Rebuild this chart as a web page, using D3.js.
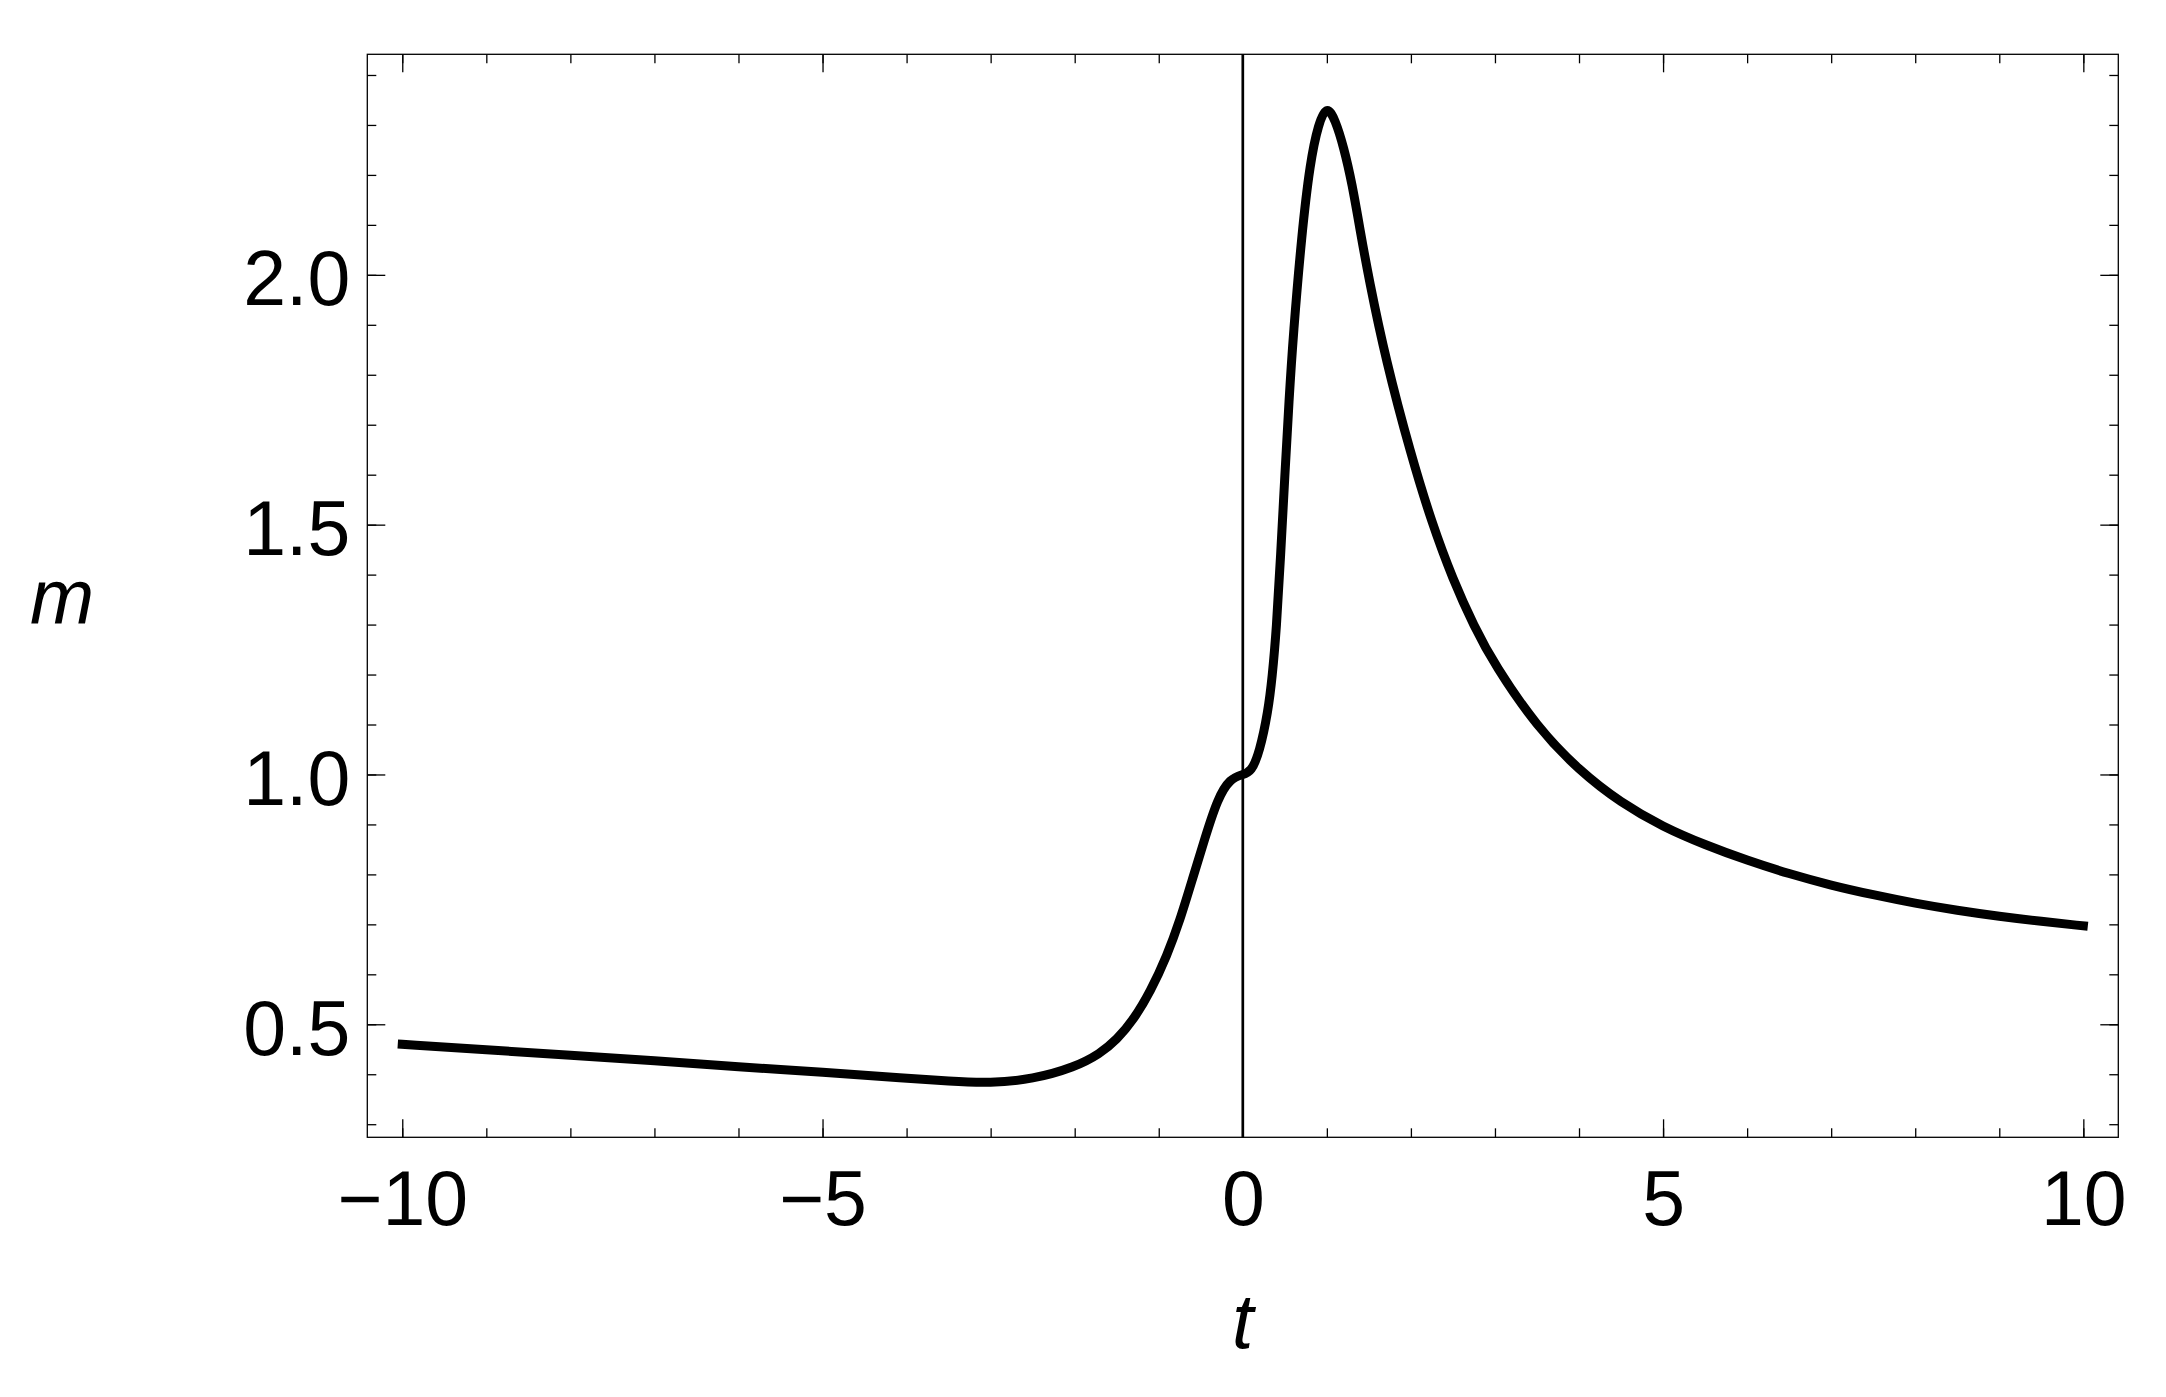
<!DOCTYPE html>
<html>
<head>
<meta charset="utf-8">
<script src="https://cdn.jsdelivr.net/npm/d3@7"></script>
<style>
  html, body { margin: 0; padding: 0; background: #fff; }
  svg text { font-family: "Liberation Sans", Arial, sans-serif; fill: #000; }
</style>
</head>
<body>
<svg id="chart"></svg>
<script>
// values
const tValues = [
  -10, -9, -8, -7, -6, -5, -4, -3.5, -3, -2.5, -2, -1.7, -1.5, -1.3, -1.1,
  -0.9, -0.75, -0.6, -0.45, -0.3, -0.15, 0, 0.1, 0.2, 0.3, 0.35, 0.4, 0.45,
  0.5, 0.55, 0.6, 0.7, 0.8, 0.9, 1.0, 1.1, 1.2, 1.3, 1.4, 1.5, 1.7, 2.0,
  2.25, 2.5, 2.75, 3.0, 3.5, 4.0, 4.5, 5.0, 5.5, 6.0, 6.5, 7.0, 7.5, 8.0,
  8.5, 9.0, 9.5, 10,
];
const mValues = [
  0.46, 0.449, 0.438, 0.427, 0.415, 0.404, 0.392, 0.386, 0.382, 0.39, 0.414,
  0.441, 0.469, 0.509, 0.565, 0.638, 0.707, 0.79, 0.873, 0.952, 0.992, 1.0,
  1.005, 1.045, 1.125, 1.195, 1.29, 1.438, 1.598, 1.75, 1.88, 2.08, 2.225,
  2.303, 2.34, 2.31, 2.256, 2.183, 2.085, 1.992, 1.83, 1.64, 1.503, 1.39,
  1.297, 1.218, 1.095, 1.008, 0.943, 0.895, 0.859, 0.828, 0.801, 0.778,
  0.759, 0.742, 0.728, 0.716, 0.706, 0.697,
];

const xMajor = [-10, -5, 0, 5, 10];
const xMinor = d3.range(-10, 10.5, 1);
const yMajor = [0.5, 1.0, 1.5, 2.0];
const yMinor = d3.range(3, 25, 1).map((d) => d / 10);

const xLabel = "t";
const yLabel = "m";

const width = 2166;
const height = 1397;
const frame = { left: 367.3, right: 2118.3, top: 54.3, bottom: 1137.3 };

const svg = d3.select("svg#chart").attr("width", width).attr("height", height);

const x = d3
  .scaleLinear()
  .domain([-10.416, 10.416])
  .range([frame.left, frame.right]);
const y = d3
  .scaleLinear()
  .domain([0.2738, 2.4414])
  .range([frame.bottom, frame.top]);

const majorLen = 18;
const minorLen = 9;
const fmt = (d) => d3.format("")(d).replace("-", "\u2212");

function styleAxis(g) {
  g.select(".domain").remove();
  g.selectAll("line").attr("stroke", "#000").attr("stroke-width", 1.3);
  g.selectAll("text").attr("font-size", 77).attr("fill", "#000");
}

// minor ticks (all four sides)
svg
  .append("g")
  .attr("transform", `translate(0,${frame.bottom})`)
  .call(d3.axisBottom(x).tickValues(xMinor).tickSize(-minorLen).tickFormat(""))
  .call(styleAxis);
svg
  .append("g")
  .attr("transform", `translate(0,${frame.top})`)
  .call(d3.axisTop(x).tickValues(xMinor).tickSize(-minorLen).tickFormat(""))
  .call(styleAxis);
svg
  .append("g")
  .attr("transform", `translate(${frame.left},0)`)
  .call(d3.axisLeft(y).tickValues(yMinor).tickSize(-minorLen).tickFormat(""))
  .call(styleAxis);
svg
  .append("g")
  .attr("transform", `translate(${frame.right},0)`)
  .call(d3.axisRight(y).tickValues(yMinor).tickSize(-minorLen).tickFormat(""))
  .call(styleAxis);

// major ticks with labels
svg
  .append("g")
  .attr("transform", `translate(0,${frame.bottom})`)
  .call(
    d3
      .axisBottom(x)
      .tickValues(xMajor)
      .tickSize(-majorLen)
      .tickPadding(33)
      .tickFormat(fmt)
  )
  .call(styleAxis);
svg
  .append("g")
  .attr("transform", `translate(0,${frame.top})`)
  .call(d3.axisTop(x).tickValues(xMajor).tickSize(-majorLen).tickFormat(""))
  .call(styleAxis);
svg
  .append("g")
  .attr("transform", `translate(${frame.left},0)`)
  .call(
    d3
      .axisLeft(y)
      .tickValues(yMajor)
      .tickSize(-majorLen)
      .tickPadding(17)
      .tickFormat(d3.format(".1f"))
  )
  .call(styleAxis)
  .call((g) => g.selectAll("text").attr("dy", "0.39em"));
svg
  .append("g")
  .attr("transform", `translate(${frame.right},0)`)
  .call(d3.axisRight(y).tickValues(yMajor).tickSize(-majorLen).tickFormat(""))
  .call(styleAxis);

// frame
svg
  .append("rect")
  .attr("x", frame.left)
  .attr("y", frame.top)
  .attr("width", frame.right - frame.left)
  .attr("height", frame.bottom - frame.top)
  .attr("fill", "none")
  .attr("stroke", "#000")
  .attr("stroke-width", 1.3);

// vertical line at t = 0
svg
  .append("line")
  .attr("x1", x(0))
  .attr("x2", x(0))
  .attr("y1", frame.top)
  .attr("y2", frame.bottom)
  .attr("stroke", "#000")
  .attr("stroke-width", 2.7);

// the curve (b-spline smooths out reading noise)
const points = tValues.map((t, i) => [t, mValues[i]]);
svg
  .append("path")
  .attr(
    "d",
    d3
      .line()
      .x(([t]) => x(t))
      .y(([, m]) => y(m))
      .curve(d3.curveBasis)(points)
  )
  .attr("fill", "none")
  .attr("stroke", "#000")
  .attr("stroke-width", 9)
  .attr("stroke-linecap", "square")
  .attr("stroke-linejoin", "round");

// axis labels
svg
  .append("text")
  .attr("x", x(0))
  .attr("y", 1348)
  .attr("text-anchor", "middle")
  .attr("font-size", 77)
  .attr("font-style", "italic")
  .text(xLabel);
svg
  .append("text")
  .attr("x", 62)
  .attr("y", 624)
  .attr("text-anchor", "middle")
  .attr("font-size", 77)
  .attr("font-style", "italic")
  .text(yLabel);
</script>
</body>
</html>
